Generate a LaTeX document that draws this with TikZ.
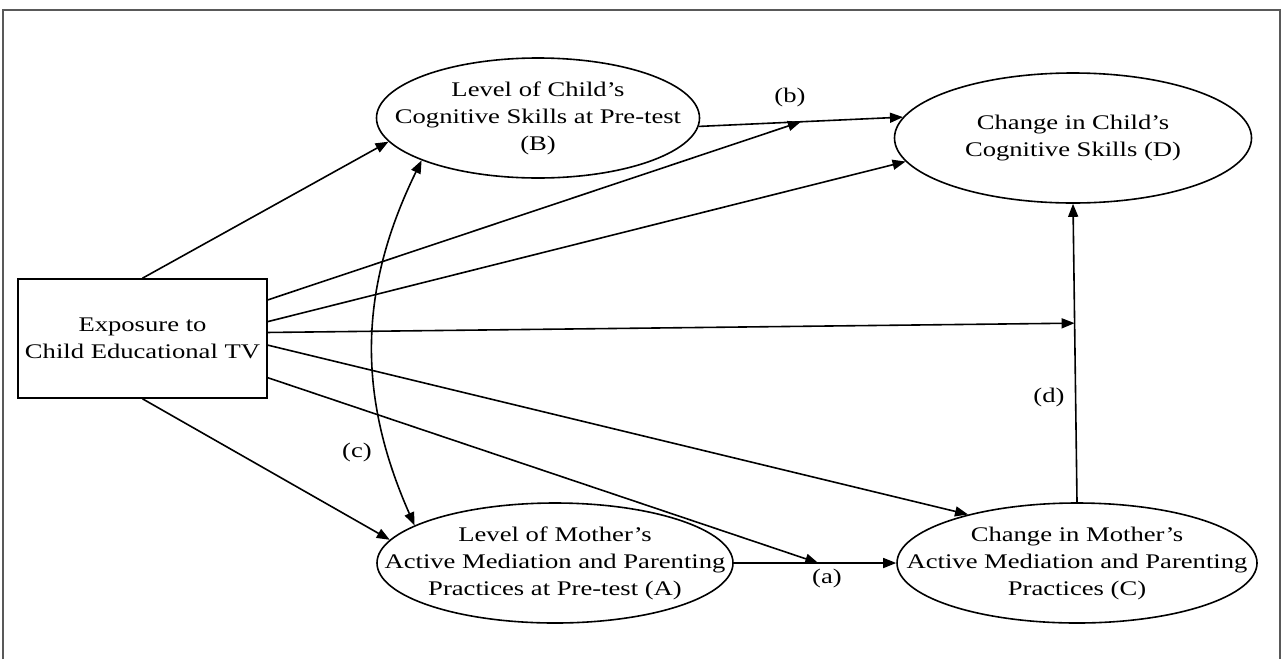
\documentclass[tikz,border=0pt]{standalone}
\usepackage{fontspec}
\setmainfont{Liberation Serif}[FakeStretch=1.28]
\usetikzlibrary{arrows.meta,shapes.geometric,calc}

\begin{document}
\begin{tikzpicture}[x=0.5pt,y=-0.5pt,
    every node/.style={font=\fontsize{10.4}{13.5}\selectfont},
    ell/.style={ellipse, draw, line width=0.8pt, inner sep=0pt},
    lbl/.style={align=center},
    arr/.style={-{Triangle[length=6.5pt,width=5pt]}, line width=0.8pt},
    dblarr/.style={{Triangle[length=6.5pt,width=5pt]}-{Triangle[length=6.5pt,width=5pt]}, line width=0.8pt}]
  \useasboundingbox (0,0) rectangle (1283,659);
  \draw[black!65, line width=1pt] (3,659) -- (3,10) -- (1280,10) -- (1280,659);

  % exposure box
  \node[draw, line width=0.8pt, minimum width=124.5pt, minimum height=59.5pt, align=center] (expo) at (142.5,338.5) {Exposure to\\Child Educational TV};

  % pre-test ellipses
  \node[ell, minimum width=161.5pt, minimum height=60pt,
        label={[lbl]center:Level of Child's\\Cognitive Skills at Pre-test\\(B)}] (skillpre) at (538,118) {};
  \node[ell, minimum width=178pt, minimum height=60pt,
        label={[lbl]center:Level of Mother's\\Active Mediation and Parenting\\Practices at Pre-test (A)}] (mompre) at (555,563) {};

  % change ellipses
  \node[ell, minimum width=178.5pt, minimum height=65pt,
        label={[lbl]center:Change in Child's\\Cognitive Skills (D)}] (skillchg) at (1073,138) {};
  \node[ell, minimum width=180pt, minimum height=60pt,
        label={[lbl]center:Change in Mother's\\Active Mediation and Parenting\\Practices (C)}] (momchg) at (1077,563) {};

  % paths a, b, d
  \draw[arr] (skillpre.-3) -- (skillchg.173) coordinate[pos=0.5] (bmid);
  \draw[arr] (mompre.east) -- (momchg.west) coordinate[pos=0.52] (amid);
  \draw[arr] (momchg.north) -- (skillchg.south) coordinate[pos=0.6] (dmid);
  \node (blbl) at (790,97) {(b)};
  \node (albl) at (827,578) {(a)};
  \node (dlbl) at (1049,397) {(d)};

  % covariance c
  \draw[dblarr] (skillpre.200) to[bend right=25] (mompre.165);
  \node (clbl) at (357,452) {(c)};

  % effects of exposure
  \draw[arr] (expo.north) -- (skillpre.189);
  \draw[arr] ($(expo.north east)!0.18!(expo.south east)$) -- (bmid);
  \draw[arr] ($(expo.north east)!0.36!(expo.south east)$) -- (skillchg.188);
  \draw[arr] ($(expo.north east)!0.45!(expo.south east)$) -- (dmid);
  \draw[arr] ($(expo.north east)!0.555!(expo.south east)$) -- (momchg.156);
  \draw[arr] ($(expo.north east)!0.825!(expo.south east)$) -- (amid);
  \draw[arr] (expo.south) -- (mompre.172);
\end{tikzpicture}
\end{document}
